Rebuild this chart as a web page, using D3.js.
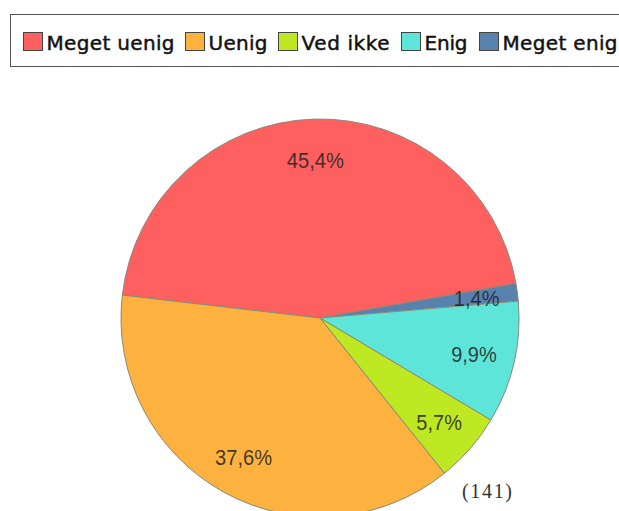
<!DOCTYPE html>
<html>
<head>
<meta charset="utf-8">
<script src="https://cdn.jsdelivr.net/npm/d3@7"></script>
<style>
  html, body { margin: 0; padding: 0; background: #ffffff; }
  svg { display: block; }
</style>
</head>
<body>
<script>
// Survey answers (number of respondents per answer)
const categories = ["Meget uenig", "Uenig", "Ved ikke", "Enig", "Meget enig"];
const counts = [64, 53, 8, 14, 2];
const colors = ["#fe5f5f", "#fdb13f", "#bde822", "#5ce5d8", "#5881ae"];
// Order in which the slices run clockwise round the pie
const sliceOrder = ["Meget uenig", "Meget enig", "Enig", "Ved ikke", "Uenig"];

const W = 619, H = 511;
const total = d3.sum(counts);
const fmtPct = v => d3.format(".1f")(v).replace(".", ",") + "%";

const svg = d3.select("body").append("svg")
  .attr("width", W).attr("height", H);

// ---- Legend ----
const legend = svg.append("g");
legend.append("rect")
  .attr("x", 10.5).attr("y", 14.5)
  .attr("width", 640).attr("height", 52)
  .attr("fill", "#fff").attr("stroke", "#555").attr("stroke-width", 1);

const legendX = [23.5, 185.5, 278.5, 401.5, 479.5];
const legendTextW = [128, 59, 88, 43, 115];
categories.forEach((c, i) => {
  const g = legend.append("g").attr("transform", `translate(${legendX[i]},32.5)`);
  g.append("rect")
    .attr("width", 19).attr("height", 18)
    .attr("fill", colors[i]).attr("stroke", "#444").attr("stroke-width", 1);
  g.append("text")
    .attr("x", 23).attr("y", 17.5)
    .attr("font-family", "DejaVu Sans, Verdana, sans-serif")
    .attr("font-size", 20)
    .attr("textLength", legendTextW[i])
    .attr("lengthAdjust", "spacing")
    .attr("fill", "#111")
    .attr("stroke", "#111")
    .attr("stroke-width", 0.45)
    .text(c);
});

// ---- Pie ----
const cx = 320, cy = 318, R = 199;
const data = sliceOrder.map(name => {
  const i = categories.indexOf(name);
  return { name, value: counts[i], color: colors[i] };
});

const pie = d3.pie()
  .sort(null)
  .value(d => d.value)
  .startAngle(-83.4 * Math.PI / 180)
  .endAngle((360 - 83.4) * Math.PI / 180);

const arc = d3.arc().innerRadius(0).outerRadius(R);
const labelArc = d3.arc().innerRadius(158).outerRadius(158);

const pg = svg.append("g").attr("transform", `translate(${cx},${cy})`);
const arcs = pie(data);

pg.selectAll("path.slice")
  .data(arcs)
  .enter().append("path")
  .attr("class", "slice")
  .attr("d", arc)
  .attr("fill", d => d.data.color)
  .attr("stroke", "#8a8a7a")
  .attr("stroke-width", 1);

pg.selectAll("text.lbl")
  .data(arcs)
  .enter().append("text")
  .attr("class", "lbl")
  .attr("transform", d => `translate(${labelArc.centroid(d)})`)
  .attr("text-anchor", "middle")
  .attr("dy", "0.38em")
  .attr("font-family", "Liberation Sans, Arial, sans-serif")
  .attr("font-size", 22)
  .attr("textLength", d => fmtPct(d.data.value / total * 100).length * 11.4)
  .attr("lengthAdjust", "spacingAndGlyphs")
  .attr("fill", "#222")
  .attr("fill-opacity", 0.85)
  .text(d => fmtPct(d.data.value / total * 100));

// Number of respondents
svg.append("text")
  .attr("x", 487).attr("y", 498)
  .attr("text-anchor", "middle")
  .attr("font-family", "Liberation Serif, Times New Roman, serif")
  .attr("font-size", 20)
  .attr("textLength", 50)
  .attr("lengthAdjust", "spacing")
  .attr("fill", "#333")
  .text(`(${total})`);
</script>
</body>
</html>
